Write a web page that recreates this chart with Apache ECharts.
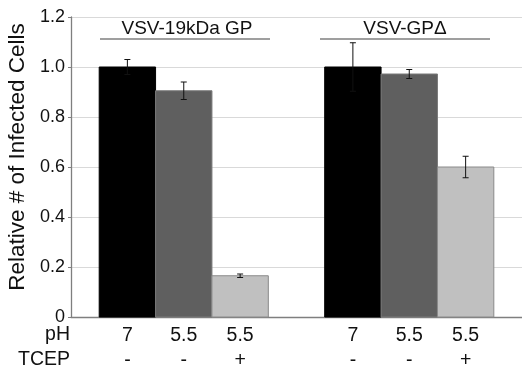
<!DOCTYPE html>
<html><head><meta charset="utf-8">
<script src="https://cdn.jsdelivr.net/npm/echarts@6/dist/echarts.min.js"></script>
<style>html,body{margin:0;padding:0;background:#fff}#c{width:522px;height:367px}</style>
</head><body><div id="c"></div>
<script>
// Data
const positions = [1, 2, 3, 5, 6, 7];
const pHLabels = ['7', '5.5', '5.5', '7', '5.5', '5.5'];
const tcepLabels = ['-', '-', '+', '-', '-', '+'];
const values = [1.0, 0.905, 0.165, 1.0, 0.972, 0.60];
const errors = [0.03, 0.035, 0.007, 0.097, 0.018, 0.043];
const groups = ['VSV-19kDa GP', 'VSV-GP\u0394'];
const yTicks = [0, 0.2, 0.4, 0.6, 0.8, 1.0, 1.2];

const fills = ['#000000', '#5f5f5f', '#c0c0c0', '#000000', '#5f5f5f', '#c0c0c0'];
const strokes = ['#000000', '#7a7a7a', '#8a8a8a', '#000000', '#7a7a7a', '#8a8a8a'];
const FONT = 'Liberation Sans, Arial, sans-serif';

const chart = echarts.init(document.getElementById('c'));
const barData = positions.map((p, i) => [p, values[i], i]);
const errData = positions.map((p, i) => [p, values[i] - errors[i], values[i] + errors[i]]);

chart.setOption({
  animation: false,
  grid: { left: 71, right: 0, top: 17, bottom: 50, containLabel: false, outerBoundsMode: 'none' },
  xAxis: {
    type: 'value', min: 0, max: 8, interval: 1,
    axisLine: { show: true, onZero: false, lineStyle: { color: '#7f7f7f', width: 1.3 } },
    axisTick: { show: false },
    splitLine: { show: false },
    axisLabel: {
      margin: 6, fontSize: 19.5, fontFamily: FONT, color: '#111', lineHeight: 25,
      showMinLabel: true, showMaxLabel: true,
      formatter: function (v) {
        const i = positions.indexOf(v);
        return i < 0 ? '' : pHLabels[i] + '\n' + tcepLabels[i];
      }
    }
  },
  yAxis: {
    type: 'value', min: 0, max: 1.2, interval: 0.2,
    name: 'Relative # of Infected Cells', nameLocation: 'middle', nameGap: 36,
    nameTextStyle: { fontSize: 22.5, fontFamily: FONT, color: '#111', padding: [0, 0, 0, 20] },
    axisLine: { show: true, lineStyle: { color: '#7f7f7f', width: 1.3 } },
    axisTick: { show: true, length: 3, lineStyle: { color: '#7f7f7f' } },
    splitLine: { show: true, lineStyle: { color: '#d9d9d9', width: 1 } },
    axisLabel: {
      margin: 6, fontSize: 18, fontFamily: FONT, color: '#111',
      formatter: function (v) { return v === 0 ? '0' : v.toFixed(1); }
    }
  },
  graphic: [
    { type: 'text', right: 452, top: 325, style: { text: 'pH', fontSize: 19.5, fontFamily: FONT, fill: '#111', align: 'right' } },
    { type: 'text', right: 452, top: 350, style: { text: 'TCEP', fontSize: 19.5, fontFamily: FONT, fill: '#111', align: 'right' } },
    { type: 'line', shape: { x1: 100, y1: 39, x2: 270, y2: 39 }, style: { stroke: '#7f7f7f', lineWidth: 1.5 } },
    { type: 'line', shape: { x1: 320, y1: 39, x2: 490, y2: 39 }, style: { stroke: '#7f7f7f', lineWidth: 1.5 } },
    { type: 'text', x: 187, y: 29, style: { text: groups[0], fontSize: 19, fontFamily: FONT, fill: '#111', align: 'center', verticalAlign: 'middle' } },
    { type: 'text', x: 405, y: 29, style: { text: groups[1], fontSize: 19, fontFamily: FONT, fill: '#111', align: 'center', verticalAlign: 'middle' } }
  ],
  series: [
    {
      type: 'custom',
      data: barData,
      renderItem: function (params, api) {
        const x = api.value(0), y = api.value(1), i = api.value(2);
        const top = api.coord([x, y]);
        const base = api.coord([x, 0]);
        const w = api.size([1, 0])[0];
        return {
          type: 'rect',
          shape: { x: top[0] - w / 2, y: top[1], width: w, height: base[1] - top[1] },
          style: { fill: fills[i], stroke: strokes[i], lineWidth: 1 }
        };
      },
      z: 2
    },
    {
      type: 'custom',
      data: errData,
      renderItem: function (params, api) {
        const x = api.value(0);
        const lo = api.coord([x, api.value(1)]);
        const hi = api.coord([x, api.value(2)]);
        const c = 3;
        const st = { stroke: '#111111', lineWidth: 1 };
        return {
          type: 'group',
          children: [
            { type: 'line', shape: { x1: hi[0], y1: hi[1], x2: lo[0], y2: lo[1] }, style: st },
            { type: 'line', shape: { x1: hi[0] - c, y1: hi[1], x2: hi[0] + c, y2: hi[1] }, style: st },
            { type: 'line', shape: { x1: lo[0] - c, y1: lo[1], x2: lo[0] + c, y2: lo[1] }, style: st }
          ]
        };
      },
      z: 3
    }
  ]
});
</script>
</body></html>
